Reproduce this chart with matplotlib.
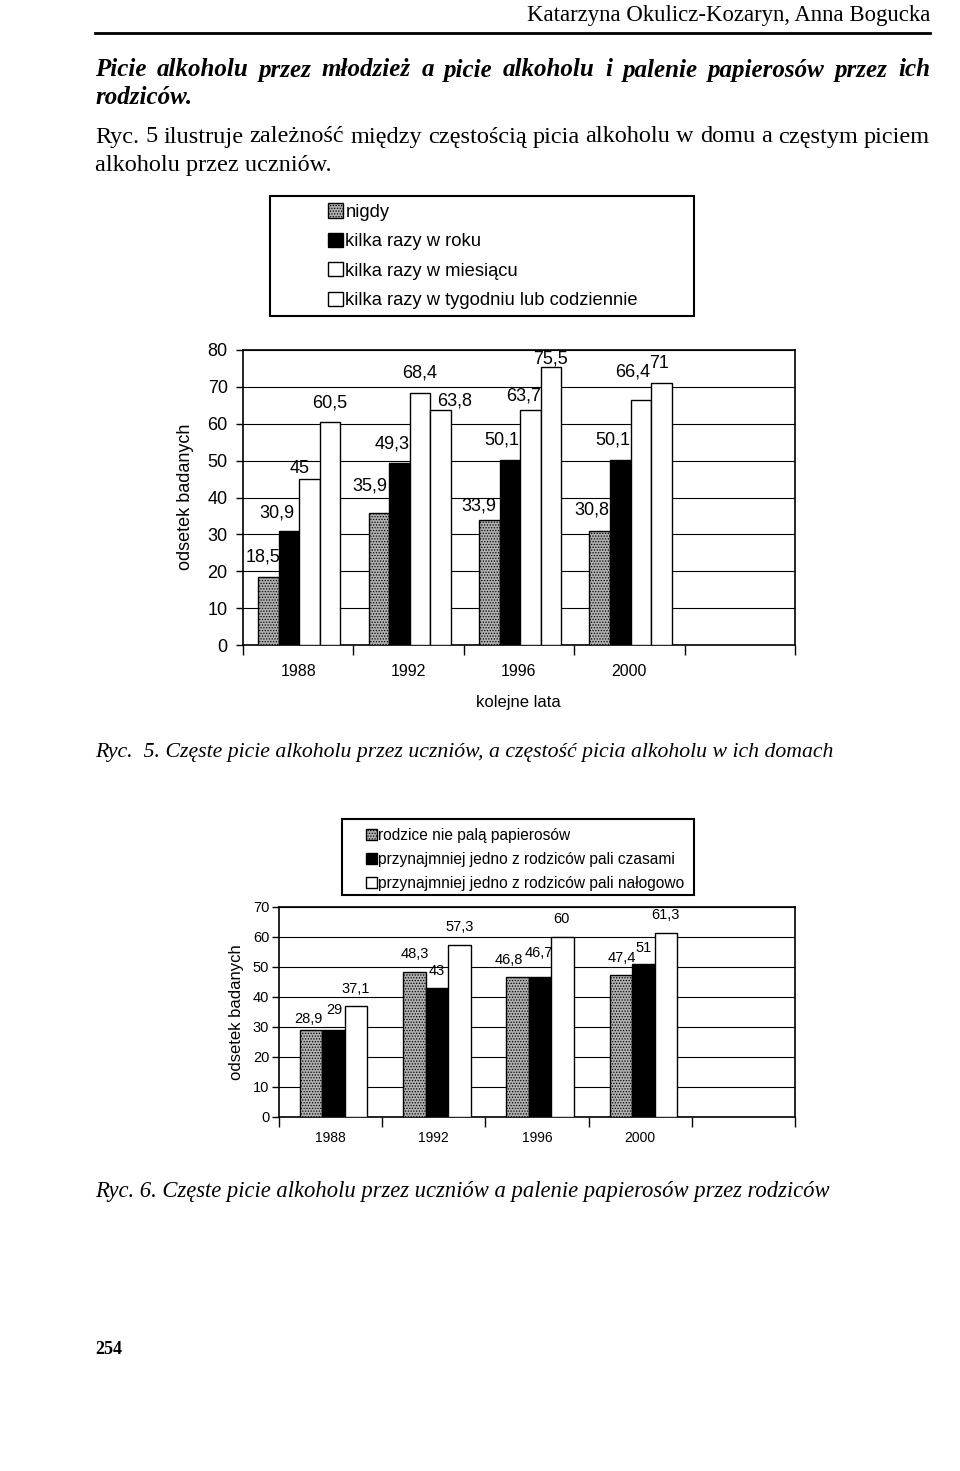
import matplotlib
matplotlib.use('Agg')
import matplotlib.pyplot as plt
from matplotlib.patches import Rectangle
from matplotlib.lines import Line2D
import numpy as np

W, H = 960, 1471
plt.rcParams['font.family'] = ['Liberation Sans', 'DejaVu Sans']
plt.rcParams['hatch.linewidth'] = 0.6
SERIF = ['Liberation Serif', 'DejaVu Serif']

years = ['1988', '1992', '1996', '2000']

# Ryc. 5
s5_labels = ['nigdy', 'kilka razy w roku', 'kilka razy w miesiącu',
             'kilka razy w tygodniu lub codziennie']
nigdy = [18.5, 35.9, 33.9, 30.8]
w_roku = [30.9, 49.3, 50.1, 50.1]
w_miesiacu = [45, 68.4, 63.7, 66.4]
w_tygodniu = [60.5, 63.8, 75.5, 71]

# Ryc. 6
s6_labels = ['rodzice nie palą papierosów',
             'przynajmniej jedno z rodziców pali czasami',
             'przynajmniej jedno z rodziców pali nałogowo']
nie_pala = [28.9, 48.3, 46.8, 47.4]
czasami = [29, 43, 46.7, 51]
nalogowo = [37.1, 57.3, 60, 61.3]

# data-label placement (dx, dy in pixels relative to bar top centre), per series
lab_off5 = [[(-5, 20), (-9, 27), (-10, 14), (-8, 21)],
            [(-12, 18), (-7, 19), (-8, 20), (-7, 20)],
            [(-10, 11), (0, 20), (-7, 14), (-8, 28)],
            [(0, 19), (14, 9), (0, 8), (-2, 20)]]
lab_off6 = [[(-3, 11), (0, 18), (-9, 17), (1, 17)],
            [(1, 20), (0, 17), (-1, 24), (0, 16)],
            [(-1, 17), (0, 18), (-1, 18), (0, 18)]]


def fmt(v):
    return ('%g' % v).replace('.', ',')


fig = plt.figure(figsize=(9.6, 14.71), dpi=100)


def fx(x):
    return x / W


def fy(y):
    return 1 - y / H


GRAY = dict(facecolor='#b0b0b0', hatch='......', edgecolor='black')
BLACK = dict(facecolor='black', edgecolor='black')
WHITE = dict(facecolor='white', edgecolor='black')
PT = 72 / 100  # points per pixel


def bar_chart(ax, series, labels, styles, offsets, width, shift, ymax, fs_tick,
              fs_lab, fs_x, xpad, ypad):
    n = len(series)
    x = np.arange(len(years))
    containers = []
    for i, (vals, lab, st, offs) in enumerate(zip(series, labels, styles, offsets)):
        off = (i - (n - 1) / 2) * width + shift
        bc = ax.bar(x + off, vals, width, label=lab, linewidth=1.0, zorder=3, **st)
        containers.append(bc)
        for xi, v, (dx, dy) in zip(x + off, vals, offs):
            ax.annotate(fmt(v), (xi, v), xytext=(dx * PT, dy * PT),
                        textcoords='offset points', ha='center', va='center',
                        fontsize=fs_lab, zorder=5)
    ax.set_xlim(-0.5, 4.5)
    ax.set_ylim(0, ymax)
    ax.set_yticks(np.arange(0, ymax + 1, 10))
    ax.tick_params(axis='y', labelsize=fs_tick, length=5, width=1,
                   direction='out', pad=ypad)
    ax.set_xticks(x)
    ax.set_xticklabels(years, fontsize=fs_x)
    ax.set_xticks(np.arange(-0.5, 4.6, 1), minor=True)
    ax.tick_params(axis='x', which='major', length=0, pad=xpad)
    ax.tick_params(axis='x', which='minor', length=7, width=1)
    ax.yaxis.grid(True, color='black', linewidth=0.8)
    ax.set_axisbelow(True)
    for s in ax.spines.values():
        s.set_linewidth(1.2)
    return containers


# ---------- Chart 1 (Ryc. 5) ----------
ax1 = fig.add_axes([fx(243), fy(645), (795 - 243) / W, (645 - 350) / H])
c1 = bar_chart(ax1, [nigdy, w_roku, w_miesiacu, w_tygodniu], s5_labels,
               [GRAY, BLACK, WHITE, WHITE], lab_off5, 0.186, 0.01, 80,
               13, 13, 11.5, 14, 6)
fig.text(fx(185), fy(497), 'odsetek badanych', rotation=90, ha='center',
         va='center', fontsize=13)
fig.text(fx(518), fy(703), 'kolejne lata', ha='center', va='center', fontsize=12)
fig.legend(c1, s5_labels, loc='upper left', bbox_to_anchor=(fx(328), fy(203.5)),
           frameon=False, borderpad=0, borderaxespad=0, fontsize=13.2,
           handlelength=0.8, handleheight=0.8, handletextpad=0.15,
           labelspacing=0.66)
fig.patches.append(Rectangle((fx(270), fy(316)), (694 - 270) / W, (316 - 196) / H,
                             transform=fig.transFigure, fill=False,
                             edgecolor='black', linewidth=1.5))

# ---------- Chart 2 (Ryc. 6) ----------
ax2 = fig.add_axes([fx(279), fy(1117), (795 - 279) / W, (1117 - 907) / H])
c2 = bar_chart(ax2, [nie_pala, czasami, nalogowo], s6_labels,
               [GRAY, BLACK, WHITE], lab_off6, 0.218, 0.03, 70,
               10.5, 10.5, 10, 10, 2)
fig.text(fx(237), fy(1012), 'odsetek badanych', rotation=90, ha='center',
         va='center', fontsize=12)
fig.legend(c2, s6_labels, loc='upper left', bbox_to_anchor=(fx(366), fy(828)),
           frameon=False, borderpad=0, borderaxespad=0, fontsize=11.2,
           handlelength=0.68, handleheight=0.68, handletextpad=0.12,
           labelspacing=0.58)
fig.patches.append(Rectangle((fx(342), fy(895)), (694 - 342) / W, (895 - 819) / H,
                             transform=fig.transFigure, fill=False,
                             edgecolor='black', linewidth=1.5))

# ---------- Page text ----------
renderer = fig.canvas.get_renderer()


def justify(line, y, x0, x1, **kw):
    words = line.split()
    texts = [fig.text(0, fy(y), w, va='center', ha='left', **kw) for w in words]
    widths = [t.get_window_extent(renderer).width for t in texts]
    gap = (x1 - x0 - sum(widths)) / (len(words) - 1)
    x = x0
    for t, w in zip(texts, widths):
        t.set_x(fx(x))
        x += w + gap


fig.text(fx(930), fy(15), 'Katarzyna Okulicz-Kozaryn, Anna Bogucka', ha='right',
         va='center', fontsize=16.4, family=SERIF)
fig.add_artist(Line2D([fx(95), fx(930)], [fy(33), fy(33)], color='black',
                      linewidth=2, transform=fig.transFigure))
justify('Picie alkoholu przez młodzież a picie alkoholu i palenie papierosów przez ich',
        70, 95, 930, fontsize=18, family=SERIF, style='italic', weight='bold')
fig.text(fx(95), fy(97), 'rodziców.', ha='left', va='center', fontsize=18,
         family=SERIF, style='italic', weight='bold')
justify('Ryc. 5 ilustruje zależność między częstością picia alkoholu w domu a częstym piciem',
        137, 95, 930, fontsize=17.5, family=SERIF)
fig.text(fx(95), fy(166), 'alkoholu przez uczniów.', ha='left', va='center',
         fontsize=17.5, family=SERIF)
fig.text(fx(95), fy(752),
         'Ryc.  5. Częste picie alkoholu przez uczniów, a częstość picia alkoholu w ich domach',
         ha='left', va='center', fontsize=15.7, family=SERIF, style='italic')
fig.text(fx(95), fy(1192),
         'Ryc. 6. Częste picie alkoholu przez uczniów a palenie papierosów przez rodziców',
         ha='left', va='center', fontsize=16.3, family=SERIF, style='italic')
fig.text(fx(95), fy(1350), '254', ha='left', va='center', fontsize=13,
         family=SERIF, weight='bold')

fig.savefig('out.png', dpi=100)
